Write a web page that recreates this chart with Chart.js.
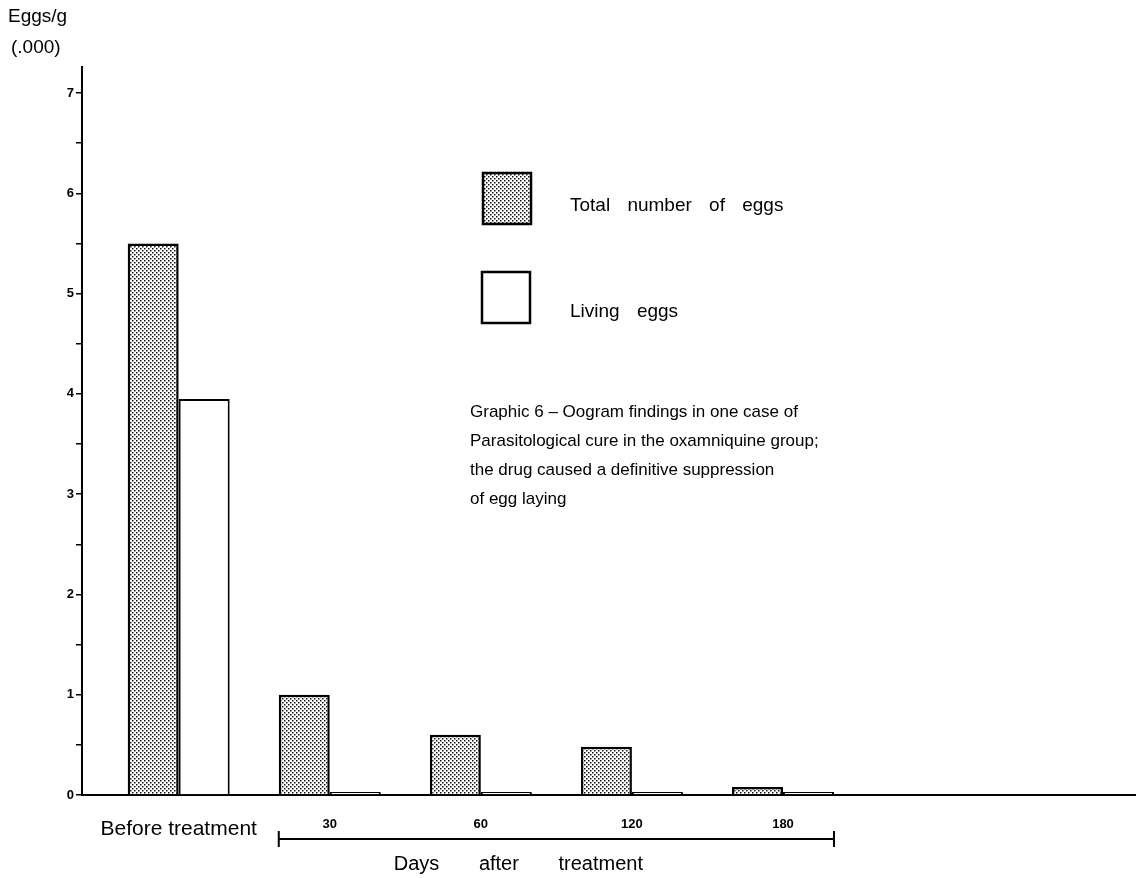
<!DOCTYPE html>
<html>
<head>
<meta charset="utf-8">
<script src="https://cdn.jsdelivr.net/npm/chart.js@4/dist/chart.umd.min.js"></script>
<style>
  html, body { margin: 0; padding: 0; background: #fff; }
  #wrap { width: 1137px; height: 878px; position: relative; }
</style>
</head>
<body>
<div id="wrap"><canvas id="chart"></canvas></div>
<script>
const groupLabels = ['Before treatment', '30', '60', '120', '180'];
const totalEggs = [5.5, 1.0, 0.6, 0.48, 0.08];
const livingEggs = [3.95, 0.03, 0.03, 0.03, 0.03];
const legendLabels = ['Total number of eggs', 'Living eggs'];
const yTitleLines = ['Eggs/g', '(.000)'];
const daysLabel = 'Days after treatment';
const captionLines = [
    'Graphic 6 \u2013 Oogram findings in one case of',
    'Parasitological cure in the oxamniquine group;',
    'the drug caused a definitive suppression',
    'of egg laying'
];

const FONT = '"Liberation Sans", Arial, sans-serif';

// stippled fill like the printed screen
function makeDots() {
    const c = document.createElement('canvas');
    c.width = 4;
    c.height = 4;
    const g = c.getContext('2d');
    g.fillStyle = '#fff';
    g.fillRect(0, 0, 4, 4);
    g.fillStyle = '#111';
    g.fillRect(0, 0, 1.5, 1.5);
    g.fillRect(2, 2, 1.5, 1.5);
    return g.createPattern(c, 'repeat');
}
const dots = makeDots();

const extras = {
    id: 'extras',
    afterDraw(chart) {
        const ctx = chart.ctx;
        const x = chart.scales.x;
        ctx.save();
        ctx.fillStyle = '#000';
        ctx.textBaseline = 'middle';

        // axis title top-left
        ctx.font = '19px ' + FONT;
        ctx.textAlign = 'left';
        ctx.fillText(yTitleLines[0], 8, 17);
        ctx.fillText(yTitleLines[1], 11, 48);

        // legend
        const ds = chart.data.datasets;
        const boxes = [[483, 173], [482, 272]];
        ds.forEach((d, i) => {
            const [bx, by] = boxes[i];
            ctx.fillStyle = d.backgroundColor;
            ctx.fillRect(bx, by, 48, 51);
            ctx.strokeStyle = '#000';
            ctx.lineWidth = 2.5;
            ctx.strokeRect(bx, by, 48, 51);
            ctx.fillStyle = '#000';
            ctx.font = '19px ' + FONT;
            ctx.wordSpacing = '12px';
            ctx.fillText(legendLabels[i], 570, by + 33 + i * 7);
        });

        // caption
        ctx.font = '17px ' + FONT;
        ctx.wordSpacing = '0px';
        captionLines.forEach((t, i) => ctx.fillText(t, 470, 412 + i * 29));

        // bracket under the post-treatment groups
        const half = 51;
        const x0 = x.getPixelForValue(1) - half;
        const x1 = x.getPixelForValue(4) + half;
        const y = 839;
        ctx.strokeStyle = '#000';
        ctx.lineWidth = 2;
        ctx.beginPath();
        ctx.moveTo(x0, y);
        ctx.lineTo(x1, y);
        ctx.moveTo(x0, y - 8);
        ctx.lineTo(x0, y + 8);
        ctx.moveTo(x1, y - 8);
        ctx.lineTo(x1, y + 8);
        ctx.stroke();

        ctx.font = '20px ' + FONT;
        ctx.wordSpacing = '34px';
        ctx.fillText(daysLabel, x0 + 115, 864);
        ctx.restore();
    }
};

const data = {
    datasets: [{
        label: legendLabels[0],
        data: groupLabels.map((_, i) => ({ x: i, y: totalEggs[i] })),
        backgroundColor: dots,
        borderColor: '#000',
        borderWidth: 2.5
    }, {
        label: legendLabels[1],
        data: groupLabels.map((_, i) => ({ x: i, y: livingEggs[i] })),
        backgroundColor: '#fff',
        borderColor: '#000',
        borderWidth: 2
    }]
};

const config = {
    type: 'bar',
    data: data,
    plugins: [extras],
    options: {
        responsive: true,
        maintainAspectRatio: false,
        animation: false,
        categoryPercentage: 0.675,
        barPercentage: 1.0,
        layout: { padding: { top: 67, right: 2, left: 0, bottom: 0 } },
        plugins: {
            legend: { display: false },
            tooltip: { enabled: false }
        },
        scales: {
            x: {
                type: 'linear',
                offset: false,
                min: -0.64,
                max: 6.33,
                afterFit: (s) => { s.height = 83; },
                afterBuildTicks: (s) => { s.ticks = groupLabels.map((_, i) => ({ value: i })); },
                grid: { display: false, offset: false },
                border: { color: '#000', width: 2 },
                ticks: {
                    color: '#000',
                    padding: 14,
                    maxRotation: 0,
                    autoSkip: false,
                    callback: (v) => groupLabels[v] ?? '',
                    font: (c) => c.index === 0
                        ? { family: FONT, size: 21 }
                        : { family: FONT, size: 13, weight: 'bold' }
                }
            },
            y: {
                min: 0,
                max: 7.26,
                afterFit: (s) => { s.width = 82; },
                grid: {
                    display: true,
                    drawOnChartArea: false,
                    drawTicks: true,
                    tickLength: 6,
                    color: '#000',
                    lineWidth: 1.5
                },
                border: { color: '#000', width: 2 },
                ticks: {
                    stepSize: 0.5,
                    includeBounds: false,
                    padding: 2,
                    color: '#000',
                    font: { family: FONT, size: 13, weight: 'bold' },
                    callback: (v) => Number.isInteger(v) ? v : ''
                }
            }
        }
    }
};

// eslint-disable-next-line
const chart = new Chart(document.getElementById('chart'), config);
</script>
</body>
</html>
